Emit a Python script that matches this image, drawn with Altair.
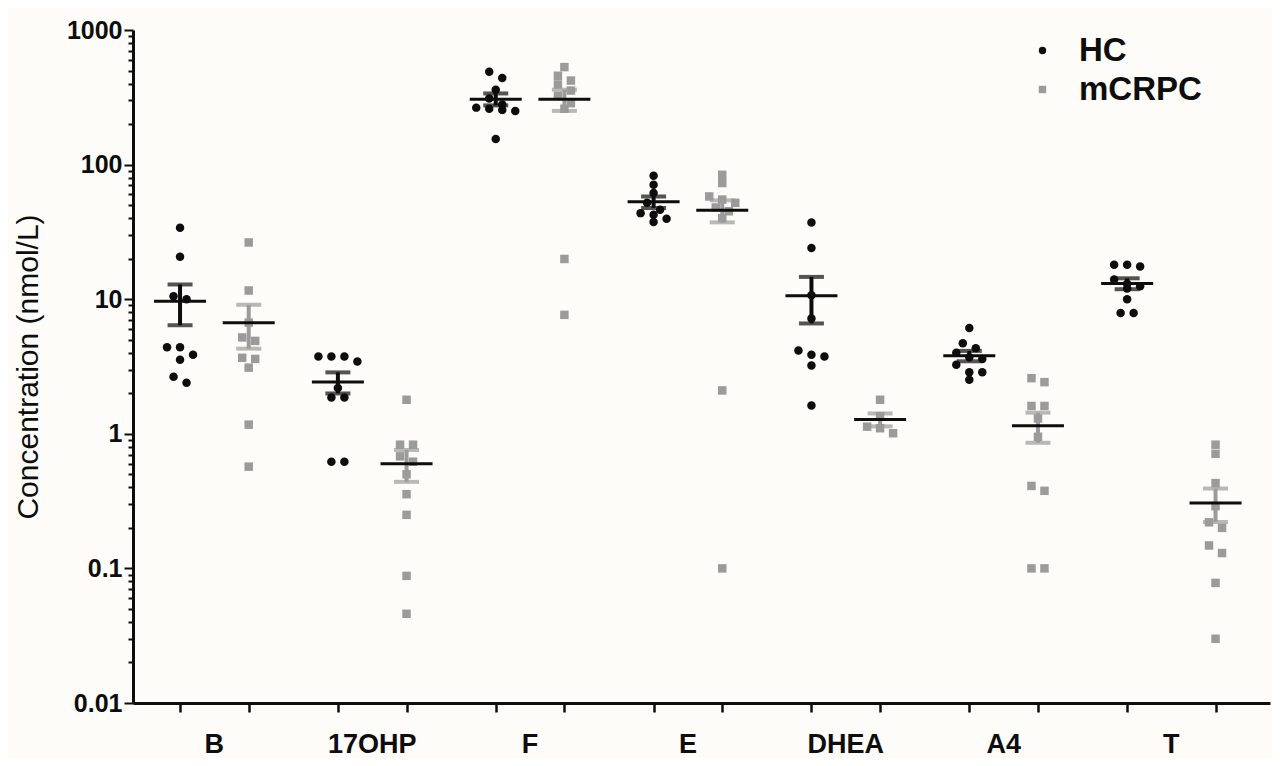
import math
import altair as alt
import pandas as pd

# ---------------- data ----------------
analytes = ["B", "17OHP", "F", "E", "DHEA", "A4", "T"]
cohorts = ["HC", "mCRPC"]

hc_b = [33.9, 20.7, 10.5, 10.0, 4.4, 4.4, 3.86, 3.55, 2.65, 2.39]
mcrpc_b = [26.4, 11.6, 6.7, 5.2, 4.9, 3.67, 3.6, 3.1, 1.17, 0.57]
hc_17ohp = [3.75, 3.75, 3.75, 3.44, 2.19, 1.86, 1.86, 0.62, 0.62]
mcrpc_17ohp = [1.79, 0.83, 0.83, 0.68, 0.62, 0.50, 0.356, 0.25, 0.088, 0.046]
hc_f = [490, 440, 360, 310, 280, 265, 260, 255, 250, 155]
mcrpc_f = [530, 457, 421, 394, 355, 324, 286, 260, 19.9, 7.65]
hc_e = [82.6, 70.8, 61.4, 52.0, 46.1, 43.6, 42.4, 39.6, 37.4]
mcrpc_e = [84, 73, 58, 55, 52, 48, 45, 40, 2.1, 0.1]
hc_dhea = [37.1, 24.0, 10.7, 7.2, 4.16, 3.86, 3.75, 3.22, 1.62]
mcrpc_dhea = [1.79, 1.35, 1.13, 1.10, 1.01]
hc_a4 = [6.1, 4.7, 4.33, 4.0, 3.7, 3.59, 3.26, 2.87, 2.87, 2.52]
mcrpc_a4 = [2.59, 2.42, 1.61, 1.61, 1.3, 0.95, 0.41, 0.377, 0.1, 0.1]
hc_t = [18.0, 18.0, 17.5, 14.0, 13.0, 12.5, 12.0, 10.0, 7.9, 7.9]
mcrpc_t = [0.83, 0.71, 0.43, 0.29, 0.22, 0.20, 0.148, 0.13, 0.078, 0.03]

hc_series = [hc_b, hc_17ohp, hc_f, hc_e, hc_dhea, hc_a4, hc_t]
mcrpc_series = [mcrpc_b, mcrpc_17ohp, mcrpc_f, mcrpc_e, mcrpc_dhea, mcrpc_a4, mcrpc_t]

# column centres on the x axis (in units of one analyte group)
hc_columns = [0, 1, 2, 3, 4, 5, 6]
mcrpc_columns = [0.435, 1.435, 2.435, 3.435, 4.435, 5.435, 6.56]

# y-axis ticks
major_ticks = [0.01, 0.1, 1, 10, 100, 1000]
minor_ticks = [m * d for d in major_ticks[:-1] for m in range(2, 10)]

# ---------------- layout helpers ----------------
W, H = 1137, 673
PX_PER_DECADE = H / 5.0
X_MIN, X_MAX = -0.298, 6.905
PX_PER_UNIT = W / (X_MAX - X_MIN)


def swarm(values, row_px=8.0, step_px=13.0):
    """Simple GraphPad-like scatter: points of similar height share a row
    and are spread symmetrically around the column centre."""
    order = sorted(range(len(values)), key=lambda i: -values[i])
    rows, cur, start = [], [], None
    for i in order:
        y = math.log10(values[i]) * PX_PER_DECADE
        if cur and abs(start - y) < row_px:
            cur.append(i)
        else:
            if cur:
                rows.append(cur)
            cur, start = [i], y
    if cur:
        rows.append(cur)
    offs = [0.0] * len(values)
    for r in rows:
        n = len(r)
        for k, i in enumerate(r):
            offs[i] = (k - (n - 1) / 2.0) * step_px / PX_PER_UNIT
    return offs


rows = []
for a, hv, mv, hc_c, mc_c in zip(analytes, hc_series, mcrpc_series, hc_columns, mcrpc_columns):
    for cohort, vals, col in (("HC", hv, hc_c), ("mCRPC", mv, mc_c)):
        for v, o in zip(vals, swarm(vals)):
            rows.append({"analyte": a, "cohort": cohort, "col": col,
                         "x": col + o, "value": v})
df = pd.DataFrame(rows)

label_df = pd.DataFrame({
    "analyte": analytes,
    "mid": [(h + m) / 2 for h, m in zip(hc_columns, mcrpc_columns)],
})

BLACK = "#0d0d0d"
GREY = "#9b9b9b"
FONT = "Liberation Sans"

is_major = "abs(log(datum.value)/LN10 - round(log(datum.value)/LN10)) < 0.001"

x_scale = alt.Scale(domain=[X_MIN, X_MAX], nice=False, zero=False)
y_scale = alt.Scale(type="log", domain=[0.01, 1000], nice=False)

x_axis = alt.Axis(values=hc_columns + mcrpc_columns, labels=False, title=None,
                  grid=False, domainWidth=3, domainColor=BLACK, tickColor=BLACK,
                  tickWidth=2.5, tickSize=9)
y_axis = alt.Axis(values=major_ticks + minor_ticks,
                  labelExpr=is_major + " ? format(datum.value, '~g') : ''",
                  tickSize={"condition": {"test": is_major, "value": 9}, "value": 5},
                  tickWidth=2, tickColor=BLACK, domainWidth=3, domainColor=BLACK,
                  grid=False, labelOverlap=False, labelFlush=False,
                  labelFont=FONT, labelFontSize=25, labelFontWeight="bold",
                  labelColor=BLACK, labelPadding=2,
                  title="Concentration (nmol/L)", titleFont=FONT,
                  titleFontSize=30, titleFontWeight="normal", titleColor=BLACK,
                  titlePadding=23)

legend = alt.Legend(title=None, orient="none", legendX=893, legendY=4,
                    labelFont=FONT, labelFontSize=33, labelFontWeight="bold",
                    labelColor=BLACK, labelOffset=20, symbolSize=55, rowPadding=5,
                    padding=0, labelLimit=400)

base = alt.Chart(df)

points = base.mark_point(filled=True, opacity=1, size=72, strokeWidth=0).encode(
    x=alt.X("x:Q", scale=x_scale, axis=x_axis),
    y=alt.Y("value:Q", scale=y_scale, axis=y_axis),
    color=alt.Color("cohort:N", scale=alt.Scale(domain=cohorts, range=[BLACK, GREY]),
                    legend=legend),
    shape=alt.Shape("cohort:N", scale=alt.Scale(domain=cohorts, range=["circle", "square"]),
                    legend=legend),
)

summary = base.transform_aggregate(
    mean="mean(value)", se="stderr(value)", groupby=["analyte", "cohort", "col"]
).transform_calculate(
    lo="datum.mean - datum.se", hi="datum.mean + datum.se",
    bar_color=f"datum.cohort == 'HC' ? '{BLACK}' : '{GREY}'"
)

stems = summary.mark_rule(strokeWidth=4).encode(
    x=alt.X("col:Q", scale=x_scale), y=alt.Y("lo:Q", scale=y_scale), y2="hi:Q",
    color=alt.Color("bar_color:N", scale=None))
cap_hi = summary.mark_tick(orient="horizontal", size=25, thickness=4).encode(
    x=alt.X("col:Q", scale=x_scale), y=alt.Y("hi:Q", scale=y_scale),
    color=alt.Color("bar_color:N", scale=None))
cap_lo = summary.mark_tick(orient="horizontal", size=25, thickness=4).encode(
    x=alt.X("col:Q", scale=x_scale), y=alt.Y("lo:Q", scale=y_scale),
    color=alt.Color("bar_color:N", scale=None))
means = summary.mark_tick(orient="horizontal", size=52, thickness=3, color=BLACK,
                          opacity=1).encode(
    x=alt.X("col:Q", scale=x_scale), y=alt.Y("mean:Q", scale=y_scale))

labels = alt.Chart(label_df).mark_text(
    font=FONT, fontSize=27, fontWeight="bold", color=BLACK, baseline="middle"
).encode(x=alt.X("mid:Q", scale=x_scale), y=alt.value(H + 42), text="analyte:N")

chart = alt.layer(points, stems, cap_hi, cap_lo, means, labels).properties(
    width=W, height=H,
    autosize=alt.AutoSizeParams(type="none"),
    padding={"left": 125, "top": 22, "right": 2, "bottom": 55},
    background="#fdfcf9",
).configure_view(stroke=None)

chart.save("out.html", embed_options={"renderer": "svg", "actions": False})
